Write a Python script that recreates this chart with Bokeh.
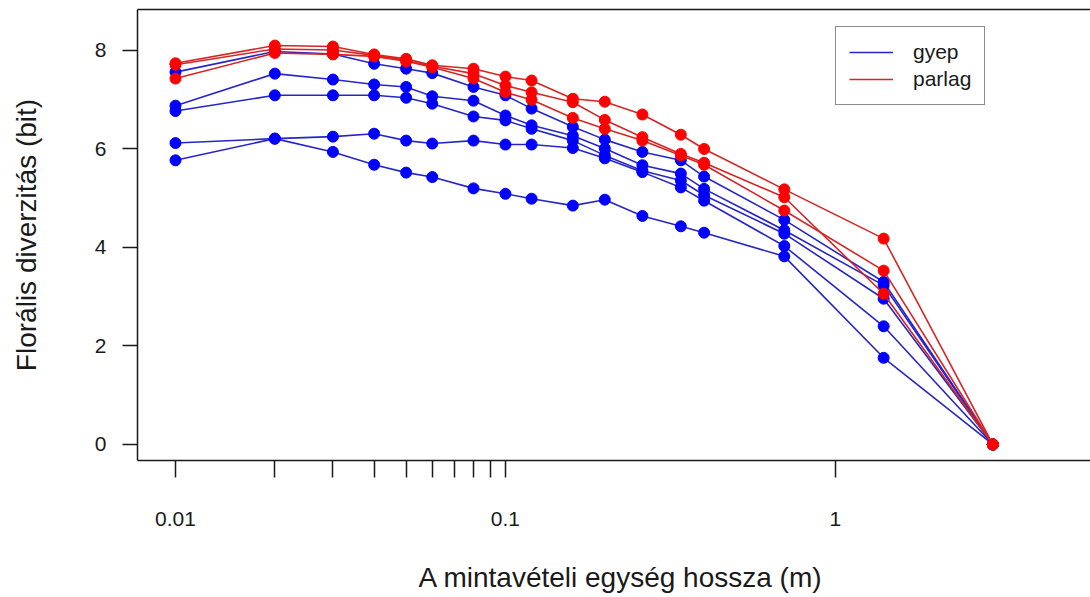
from bokeh.plotting import figure
from bokeh.models import (FixedTicker, CustomJSTickFormatter, LinearAxis, Range1d,
                          Legend, LegendItem, Title)
from bokeh.embed import file_html
from bokeh.resources import INLINE

# sampling unit length (m)
unit_len = [0.01, 0.02, 0.03, 0.04, 0.05, 0.06, 0.08, 0.1, 0.12, 0.16, 0.2,
            0.26, 0.34, 0.4, 0.7, 1.4, 3.0]

# floral diversity (bit), grassland plots ("gyep")
gyep_1 = [7.56, 7.98, 7.93, 7.73, 7.63, 7.54, 7.26, 7.09, 6.82, 6.45, 6.19, 5.94, 5.77, 5.44, 4.56, 3.30, 0.0]
gyep_2 = [6.88, 7.53, 7.41, 7.31, 7.26, 7.07, 6.98, 6.68, 6.48, 6.27, 6.01, 5.67, 5.50, 5.19, 4.35, 3.23, 0.0]
gyep_3 = [6.77, 7.09, 7.09, 7.09, 7.04, 6.92, 6.66, 6.58, 6.41, 6.17, 5.87, 5.56, 5.36, 5.06, 4.28, 2.96, 0.0]
gyep_4 = [6.12, 6.21, 6.25, 6.31, 6.17, 6.11, 6.17, 6.09, 6.09, 6.02, 5.81, 5.53, 5.22, 4.95, 4.03, 2.40, 0.0]
gyep_5 = [5.77, 6.21, 5.94, 5.68, 5.52, 5.43, 5.20, 5.09, 4.99, 4.85, 4.97, 4.64, 4.43, 4.30, 3.82, 1.76, 0.0]

# floral diversity (bit), old-field plots ("parlag")
parlag_1 = [7.74, 8.10, 8.08, 7.92, 7.83, 7.70, 7.63, 7.47, 7.39, 7.02, 6.96, 6.70, 6.29, 6.00, 5.18, 4.18, 0.0]
parlag_2 = [7.71, 8.03, 8.01, 7.90, 7.80, 7.68, 7.53, 7.29, 7.15, 6.95, 6.59, 6.24, 5.90, 5.72, 5.02, 3.06, 0.0]
parlag_3 = [7.43, 7.95, 7.92, 7.88, 7.78, 7.66, 7.43, 7.15, 7.00, 6.63, 6.41, 6.17, 5.87, 5.68, 4.75, 3.53, 0.0]

gyep = [gyep_1, gyep_2, gyep_3, gyep_4, gyep_5]
parlag = [parlag_1, parlag_2, parlag_3]

x_major = [0.01, 0.1, 1]
x_minor = [0.02, 0.03, 0.04, 0.05, 0.06, 0.07, 0.08, 0.09]
y_ticks = [0, 2, 4, 6, 8]

FONT = "Liberation Sans"
INK = "#1a1a1a"

p = figure(width=1090, height=597, x_axis_type="log",
           x_range=Range1d(0.007671, 5.93), y_range=Range1d(-0.325, 8.832),
           output_backend="svg", toolbar_location=None,
           min_border_left=137, min_border_right=0,
           min_border_top=9, min_border_bottom=137)
p.outline_line_color = None
p.xgrid.visible = False
p.ygrid.visible = False
p.background_fill_color = "white"
p.border_fill_color = "white"

# x axis: labelled decades, unlabelled minor ticks of equal length
xa = p.xaxis[0]
xa.ticker = FixedTicker(ticks=x_major, minor_ticks=x_minor)
xa.formatter = CustomJSTickFormatter(code="return tick.toString();")

ya = p.yaxis[0]
ya.ticker = FixedTicker(ticks=y_ticks)
ya.axis_label = "Florális diverzitás (bit)"

for ax in (xa, ya):
    ax.axis_line_color = INK
    ax.axis_line_width = 1.5
    ax.major_tick_line_color = INK
    ax.major_tick_line_width = 1.5
    ax.major_tick_in = 0
    ax.major_label_text_font = FONT
    ax.major_label_text_font_size = "21px"
    ax.major_label_text_color = INK
    ax.axis_label_text_font = FONT
    ax.axis_label_text_font_size = "28px"
    ax.axis_label_text_font_style = "normal"
    ax.axis_label_text_color = INK

xa.major_tick_out = 17
xa.minor_tick_out = 17
xa.minor_tick_in = 0
xa.minor_tick_line_color = INK
xa.minor_tick_line_width = 1.5
xa.major_label_standoff = 34

ya.major_tick_out = 15
ya.minor_tick_out = 0
ya.minor_tick_in = 0
ya.minor_tick_line_color = None
ya.major_label_standoff = 16
ya.major_label_orientation = "horizontal"
ya.axis_label_standoff = 50

# x axis title, placed for the full plot box (which runs past the right edge);
# the empty first line keeps it low in the bottom margin
xtitle = Title(text="\nA mintavételi egység hossza (m)", align="left", offset=281,
               vertical_align="bottom", standoff=0,
               text_font=FONT, text_font_size="28px", text_font_style="normal",
               text_color=INK)
p.add_layout(xtitle, "below")

# top edge of the plot box
top = LinearAxis(ticker=FixedTicker(ticks=[]), axis_line_color=INK,
                 axis_line_width=1.5, major_tick_out=0, major_tick_in=0,
                 minor_tick_out=0, minor_tick_in=0, major_label_standoff=0,
                 major_label_text_font_size="0px")
p.add_layout(top, "above")

BLUE_LINE, BLUE_DOT = "#2626c8", "#0000ff"
RED_LINE, RED_DOT = "#d82424", "#ff0000"

blue_lines = []
for ys in gyep:
    r = p.line(unit_len, ys, line_color=BLUE_LINE, line_width=1.6)
    p.scatter(unit_len, ys, size=11, fill_color=BLUE_DOT, line_color=BLUE_DOT)
    blue_lines.append(r)

red_lines = []
for ys in parlag:
    r = p.line(unit_len, ys, line_color=RED_LINE, line_width=1.6)
    p.scatter(unit_len, ys, size=11, fill_color=RED_DOT, line_color=RED_DOT)
    red_lines.append(r)

legend = Legend(items=[LegendItem(label="gyep", renderers=[blue_lines[0]]),
                       LegendItem(label="parlag", renderers=[red_lines[0]])],
                location=(698, 355), orientation="vertical",
                padding=13, spacing=3, margin=0,
                glyph_width=44, glyph_height=22, label_standoff=20,
                label_text_font=FONT, label_text_font_size="21px",
                label_text_color=INK, label_height=22,
                border_line_color=INK, border_line_width=1.5,
                background_fill_color="white", background_fill_alpha=1.0)
p.add_layout(legend, "center")

open("out.html", "w").write(file_html(p, INLINE))
